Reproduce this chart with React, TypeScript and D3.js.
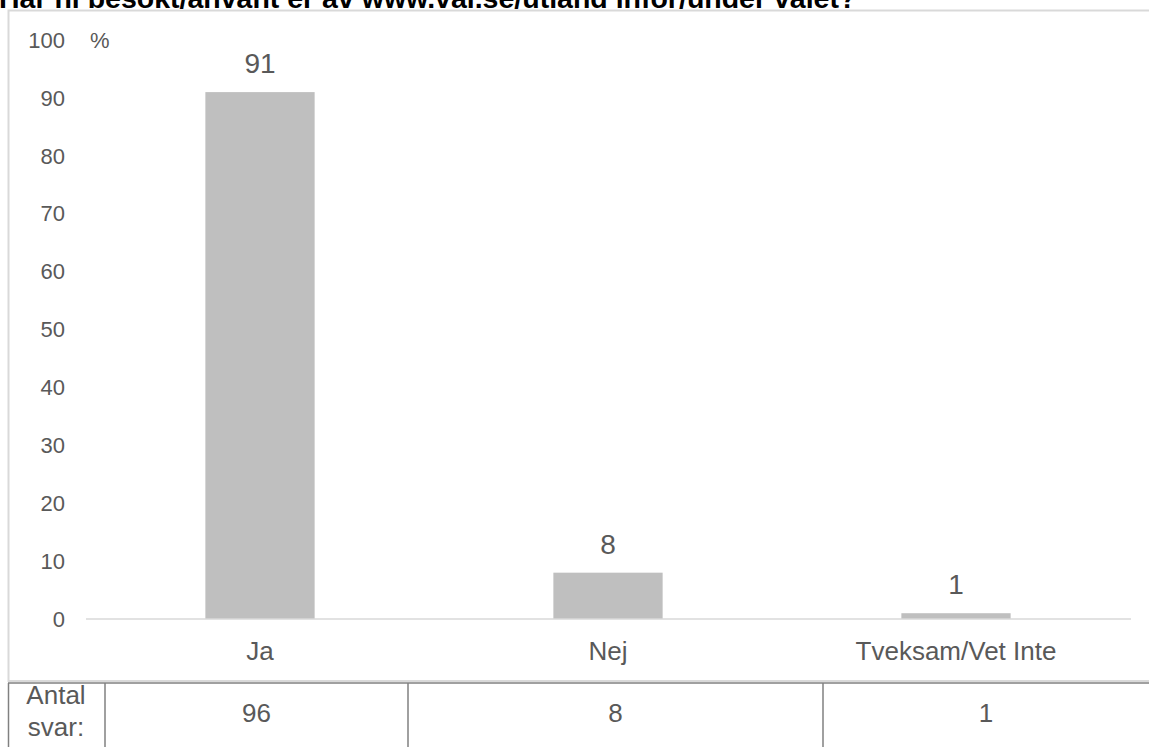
import React from "react";
import * as d3 from "d3";

const title = "Har ni besökt/använt er av www.val.se/utland inför/under valet?";
const categories = ["Ja", "Nej", "Tveksam/Vet Inte"];
const percentValues = [91, 8, 1];
const answerCounts = [96, 8, 1];
const yTicks = [0, 10, 20, 30, 40, 50, 60, 70, 80, 90, 100];
const tableLabel = ["Antal", "svar:"];

const W = 1149;
const H = 747;
const FONT = "Liberation Sans, Arial, sans-serif";
const TEXT = "#595959";

export default function App() {
  const x = d3.scaleBand<string>().domain(categories).range([86, 1130]).paddingInner(0.686).paddingOuter(0.343);
  const y = d3.scaleLinear().domain([0, 100]).range([619, 40]);
  const colEdges = [105, 408, 823, 1149];

  return (
    <svg width={W} height={H} style={{ position: "absolute", left: 0, top: 0 }}>
      <text x={-1} y={7.5} fontFamily={FONT} fontWeight="bold" fontSize={28.5} fill="#000">{title}</text>
      <rect x={8.5} y={10.5} width={1160} height={670.5} fill="#fff" stroke="#d9d9d9" strokeWidth={2} />
      {yTicks.map((t) => (
        <text key={t} x={65} y={y(t)} dy="0.35em" textAnchor="end" fontFamily={FONT} fontSize={22} fill={TEXT}>{t}</text>
      ))}
      <text x={90} y={y(100)} dy="0.35em" fontFamily={FONT} fontSize={22} fill={TEXT}>%</text>
      {categories.map((c, i) => (
        <g key={c}>
          <rect x={x(c)} y={y(percentValues[i])} width={x.bandwidth()} height={y(0) - y(percentValues[i])} fill="#bfbfbf" />
          <text x={(x(c) as number) + x.bandwidth() / 2} y={y(percentValues[i]) - 19} textAnchor="middle" fontFamily={FONT} fontSize={28} fill={TEXT}>{percentValues[i]}</text>
          <text x={(x(c) as number) + x.bandwidth() / 2} y={660} textAnchor="middle" fontFamily={FONT} fontSize={26} fill={TEXT}>{c}</text>
        </g>
      ))}
      <line x1={86} x2={1131} y1={619} y2={619} stroke="#d9d9d9" strokeWidth={1.5} />
      <line x1={8} x2={1149} y1={683} y2={683} stroke="#808080" strokeWidth={1.5} />
      <line x1={8.5} x2={8.5} y1={683} y2={747} stroke="#808080" strokeWidth={1.5} />
      {colEdges.slice(0, 3).map((e) => (
        <line key={e} x1={e} x2={e} y1={683} y2={747} stroke="#808080" strokeWidth={1.5} />
      ))}
      <text x={56} y={704} textAnchor="middle" fontFamily={FONT} fontSize={26} fill={TEXT}>{tableLabel[0]}</text>
      <text x={56} y={736} textAnchor="middle" fontFamily={FONT} fontSize={26} fill={TEXT}>{tableLabel[1]}</text>
      {answerCounts.map((v, i) => (
        <text key={i} x={(colEdges[i] + colEdges[i + 1]) / 2} y={722} textAnchor="middle" fontFamily={FONT} fontSize={26} fill={TEXT}>{v}</text>
      ))}
    </svg>
  );
}
